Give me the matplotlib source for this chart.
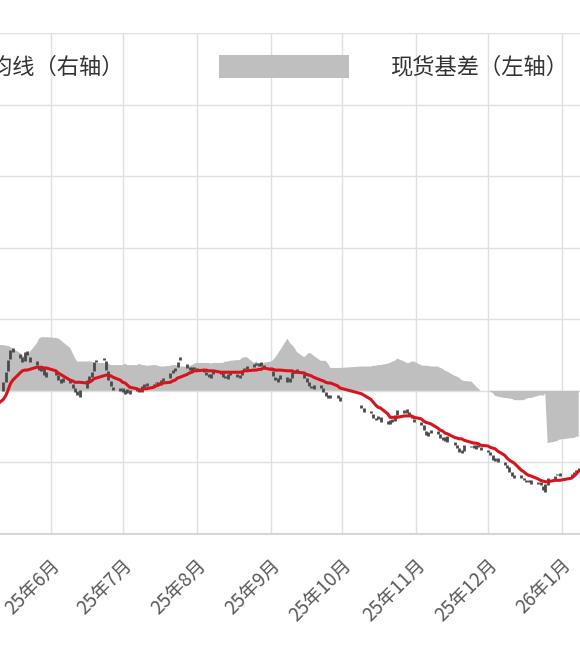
import numpy as np
import pandas as pd
import matplotlib
matplotlib.use('Agg')
import matplotlib.pyplot as plt
from matplotlib.patches import Rectangle
from matplotlib.transforms import ScaledTranslation

# trading days (weekdays minus exchange holidays)
holidays = ['2025-06-02', '2025-10-01', '2025-10-02', '2025-10-03',
            '2025-10-06', '2025-10-07', '2025-10-08', '2026-01-01', '2026-01-02']
trade_dates = pd.bdate_range('2025-05-09', '2026-01-08')
trade_dates = trade_dates[~trade_dates.isin(pd.to_datetime(holidays))]

# daily K-line (right axis), one week per row
opens = [3092,
         3100, 3112, 3128, 3145, 3160,
         3152, 3148, 3142, 3156, 3148,
         3142, 3134, 3128, 3132, 3120,
         3128, 3122, 3116, 3112,
         3116, 3110, 3104, 3100, 3092,
         3104, 3114, 3120, 3128, 3140,
         3146, 3142, 3128, 3114, 3106,
         3100, 3104, 3096, 3102, 3096,
         3100, 3104, 3098, 3106, 3111,
         3106, 3112, 3112, 3108, 3114,
         3118, 3125, 3128, 3133, 3148,
         3138, 3134, 3128, 3134, 3132,
         3130, 3127, 3123, 3118, 3124,
         3128, 3125, 3121, 3117, 3122,
         3124, 3118, 3122, 3128, 3131,
         3134, 3139, 3135, 3140, 3136,
         3133, 3128, 3120, 3112, 3117,
         3120, 3112, 3118, 3125, 3130,
         3124, 3118, 3112, 3107, 3103,
         3108, 3104, 3098, 3094, 3090,
         3094, 3091,
         3080, 3076,
         3072, 3068, 3062, 3060, 3064,
         3058, 3054, 3060, 3058, 3066,
         3069, 3074, 3070, 3066, 3061,
         3057, 3052, 3044, 3037, 3041,
         3044, 3040, 3035, 3030, 3037,
         3029, 3025, 3020, 3013, 3016,
         3022, 3024, 3019, 3025, 3022,
         3018, 3014, 3010, 3002, 3006,
         3001, 2996, 2993, 2987, 2982,
         2982, 2978, 2976, 2972, 2976,
         2970, 2973, 2967, 2958, 2969,
         2977, 2982, 2985,
         2980, 2984, 2986, 2988]

closes = [3100,
          3112, 3126, 3143, 3157, 3154,
          3146, 3140, 3154, 3150, 3140,
          3136, 3129, 3132, 3122, 3126,
          3122, 3115, 3111, 3118,
          3111, 3104, 3098, 3094, 3101,
          3115, 3121, 3126, 3140, 3143,
          3143, 3129, 3115, 3107, 3101,
          3104, 3098, 3101, 3097, 3101,
          3104, 3098, 3107, 3110, 3107,
          3110, 3111, 3108, 3115, 3118,
          3125, 3129, 3132, 3140, 3143,
          3132, 3129, 3133, 3130, 3128,
          3126, 3122, 3119, 3123, 3128,
          3124, 3119, 3118, 3123, 3126,
          3119, 3122, 3129, 3132, 3135,
          3138, 3136, 3139, 3135, 3132,
          3129, 3121, 3115, 3118, 3122,
          3112, 3118, 3126, 3129, 3126,
          3118, 3112, 3107, 3104, 3108,
          3104, 3098, 3093, 3090, 3094,
          3090, 3086,
          3076, 3070,
          3069, 3062, 3059, 3065, 3056,
          3054, 3059, 3056, 3066, 3073,
          3073, 3069, 3066, 3062, 3056,
          3052, 3045, 3038, 3042, 3045,
          3040, 3034, 3031, 3036, 3028,
          3024, 3020, 3015, 3017, 3024,
          3023, 3020, 3024, 3021, 3017,
          3014, 3010, 3003, 3006, 3000,
          2996, 2992, 2987, 2981, 2978,
          2978, 2975, 2973, 2975, 2970,
          2973, 2968, 2961, 2970, 2978,
          2981, 2984, 2981,
          2984, 2987, 2989, 2992]

# moving average (right axis)
ma_line = [3080,
           3088, 3093, 3101, 3110, 3115,
           3125, 3128, 3129, 3129, 3130,
           3133, 3133, 3133, 3132, 3132,
           3128, 3125, 3123, 3121,
           3115, 3114, 3112, 3112, 3112,
           3111, 3112, 3114, 3117, 3118,
           3121, 3122, 3122, 3121, 3119,
           3115, 3112, 3111, 3108, 3105,
           3103, 3101, 3101, 3103, 3103,
           3105, 3107, 3108, 3110, 3111,
           3112, 3114, 3115, 3118, 3119,
           3123, 3125, 3126, 3128, 3128,
           3129, 3129, 3128, 3128, 3128,
           3126, 3126, 3126, 3126, 3126,
           3126, 3126, 3126, 3128, 3128,
           3129, 3129, 3130, 3130, 3132,
           3130, 3130, 3129, 3129, 3129,
           3128, 3128, 3128, 3126, 3126,
           3125, 3123, 3122, 3121, 3119,
           3115, 3114, 3112, 3111, 3111,
           3107, 3104,
           3096, 3094,
           3088, 3084, 3080, 3077, 3076,
           3068, 3063, 3063, 3063, 3063,
           3065, 3065, 3065, 3065, 3063,
           3061, 3058, 3056, 3055, 3054,
           3048, 3045, 3044, 3041, 3040,
           3035, 3034, 3033, 3033, 3031,
           3028, 3027, 3027, 3026, 3024,
           3023, 3021, 3020, 3019, 3016,
           3010, 3006, 3003, 3001, 2999,
           2989, 2987, 2984, 2982, 2981,
           2977, 2975, 2974, 2973, 2973,
           2975, 2975, 2975,
           2978, 2981, 2984, 2988]

# spot basis (left axis)
basis = [64,
         64, 63, 63, 61, 59,
         53, 50, 47, 49, 54,
         66, 73, 75, 75, 75,
         74, 73, 71, 68,
         60, 53, 46, 41, 41,
         41, 41, 41, 39, 39,
         39, 38, 38, 36, 36,
         36, 36, 38, 36, 36,
         36, 38, 36, 36, 35,
         36, 36, 35, 34, 34,
         35, 36, 36, 35, 34,
         34, 35, 36, 38, 39,
         39, 39, 39, 38, 39,
         39, 39, 41, 41, 42,
         43, 43, 46, 47, 47,
         39, 41, 38, 39, 39,
         41, 43, 47, 52, 57,
         73, 67, 64, 60, 54,
         47, 50, 53, 52, 49,
         42, 42, 42, 38, 32,
         32, 32,
         34, 34,
         34, 35, 35, 36, 36,
         38, 39, 41, 42, 45,
         41, 39, 39, 41, 41,
         36, 35, 35, 35, 34,
         34, 32, 31, 28, 27,
         21, 20, 18, 15, 14,
         13, 10, 6, 3, 0,
         0, -1, -3, -7, -8,
         -10, -10, -11, -11, -13,
         -13, -13, -11, -10, -10,
         -7, -6, -7, -4, -73,
         -71, -70, -68,
         -66, -66, -64, -64]

month_ticks = pd.to_datetime(['2025-06-01', '2025-07-01', '2025-08-01', '2025-09-01',
                              '2025-10-01', '2025-11-01', '2025-12-01', '2026-01-01'])
month_labels = ['25年6月', '25年7月', '25年8月', '25年9月',
                '25年10月', '25年11月', '25年12月', '26年1月']

plt.rcParams['font.family'] = ['Noto Sans CJK SC', 'DejaVu Sans']

W, H = 580, 665
fig = plt.figure(figsize=(W / 100, H / 100), dpi=100)
ax = fig.add_axes([0, 131 / H, 1, 501 / H])
ax2 = ax.twinx()

# basis area on the left axis
ax.fill_between(trade_dates, 0, basis, color='#bfbfbf', lw=0, zorder=2)
ax.set_ylim(-200, 500)
ax.set_yticks(range(-200, 501, 100))
ax.set_xlim(pd.Timestamp('2025-05-10 15:00'), pd.Timestamp('2026-01-08 13:00'))
ax.set_xticks(month_ticks)
ax.set_xticklabels(month_labels, rotation=45, ha='right', rotation_mode='anchor',
                   fontsize=13.5, color='#595959')
ax.tick_params(axis='x', length=0, pad=15)
shift = ScaledTranslation(-1 / 100, 0, fig.dpi_scale_trans)
for lbl in ax.get_xticklabels():
    lbl.set_transform(lbl.get_transform() + shift)
ax.tick_params(axis='y', length=0, labelleft=False)
ax.grid(True, color='#e0e0e0', lw=1)
ax.set_axisbelow(True)
for s in ['left', 'right', 'top']:
    ax.spines[s].set_visible(False)
ax.spines['bottom'].set_color('#d6d6d6')
ax.spines['bottom'].set_linewidth(1.5)

# K-line and moving average on the right axis
lo = np.minimum(opens, closes)
hi = np.maximum(opens, closes)
ax2.vlines(trade_dates, lo, hi, color='#4a4a4a', lw=2, zorder=3)
ax2.plot(trade_dates, ma_line, color='#d7141c', lw=2.2, zorder=4)
ax2.set_ylim(2900, 3600)
ax2.tick_params(axis='y', length=0, labelright=False)
for s in ['left', 'right', 'top', 'bottom']:
    ax2.spines[s].set_visible(False)

# legend (partly outside the visible area, as in the source)
fig.text(124 / W, 1 - 67 / H, '20日均线（右轴）', ha='right', va='center',
         fontsize=16, color='#333333')
fig.add_artist(Rectangle((219 / W, 1 - 78 / H), 130 / W, 23 / H,
                         transform=fig.transFigure, color='#bfbfbf', lw=0))
fig.text(390 / W, 1 - 67 / H, '现货基差（左轴）', ha='left', va='center',
         fontsize=16, color='#333333')

fig.savefig('out.png', dpi=100)
